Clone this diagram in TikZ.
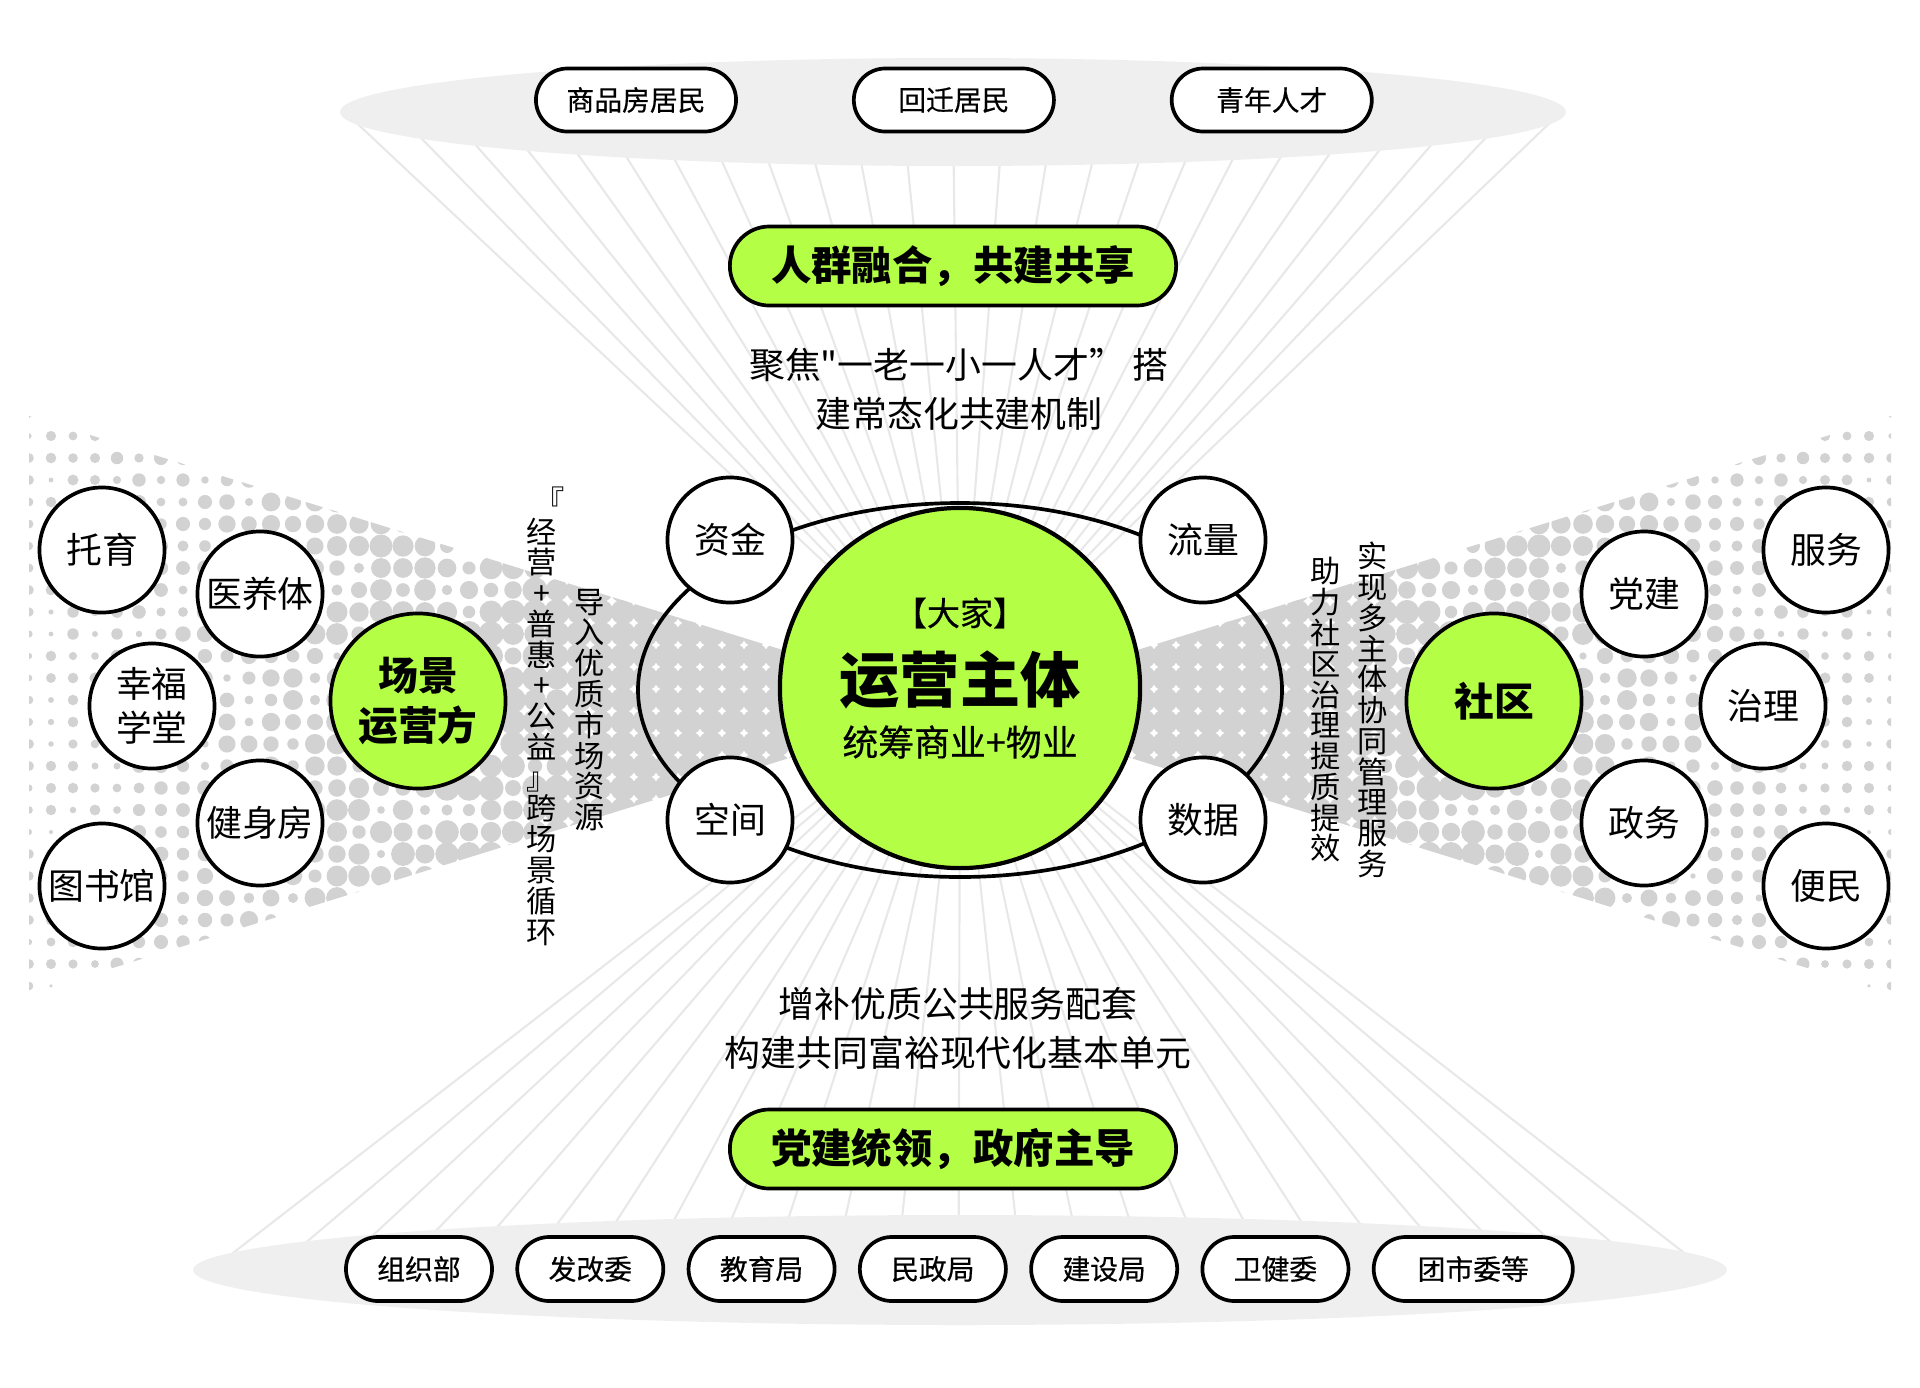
\documentclass[tikz,border=0pt]{standalone}
\usepackage{fontspec}
\setmainfont{Noto Sans CJK SC}[Ligatures=TeXOff]
\newfontfamily\medfont[FakeBold=0.5]{Noto Sans CJK SC}
\usetikzlibrary{positioning,shapes.misc}
\definecolor{lime}{HTML}{B4FF46}
\definecolor{dotgray}{HTML}{D2D2D2}
\definecolor{raygray}{HTML}{E8E8E8}
\definecolor{poolgray}{HTML}{EFEFEF}

\begin{document}
\begin{tikzpicture}[x=0.01cm,y=-0.01cm,line width=1.05pt,node distance=1.14cm]
  \tikzstyle{bub}=[circle,draw,fill=white,minimum size=1.25cm,inner sep=0pt,
                   align=center,font=\fontsize{10.2}{12.5}\selectfont]
  \tikzstyle{hubbub}=[bub,fill=lime,minimum size=1.75cm,
                      font=\bfseries\fontsize{11.3}{14}\selectfont]
  \tikzstyle{pill}=[rounded rectangle,draw,fill=white,minimum width=2cm,
                    minimum height=0.63cm,inner sep=0pt,
                    font=\medfont\fontsize{7.9}{9}\selectfont]
  \tikzstyle{bigpill}=[pill,fill=lime,minimum width=4.46cm,minimum height=0.79cm,
                       font=\bfseries\fontsize{11.5}{13}\selectfont]
  \tikzstyle{vcol}=[align=center,inner sep=0pt,font=\fontsize{8.6}{8.75}\selectfont]
  \tikzstyle{note}=[align=center,inner sep=0pt,font=\fontsize{10.2}{14}\selectfont]

  \useasboundingbox (0,0) rectangle (1920,1387);
  \coordinate (hub) at (960,690);

  % rays from both pools
  \foreach \k in {0,...,24} {
    \draw[raygray,line width=0.6pt] ({345+50.67*\k},112) -- (hub);
    \draw[raygray,line width=0.6pt] ({211+62.3*\k},1270) -- (hub);
  }
  \fill[poolgray] (953,112) ellipse [x radius=613,y radius=54];
  \fill[poolgray] (960,1270) ellipse [x radius=767,y radius=55];

  % halftone fans, left one and its mirror
  \foreach \side in {1,-1} {
    \begin{scope}[shift={(960,0)},xscale=\side,shift={(-960,0)}]
      \pgfmathsetseed{17}
      \clip (29,416) -- (960,705) -- (29,994) -- cycle;
      \foreach \i in {0,...,35}
        \foreach \k in {-1,...,26} {
          \pgfmathsetmacro\px{29+22*\i}
          \pgfmathsetmacro\uu{(960-\px)/930}
          \pgfmathsetmacro\amp{max(0,min(1,(\uu-0.35)*6))}
          \pgfmathsetmacro\rr{min(13,5.5+18*(0.97-\uu))*(1-\amp*0.75*rnd*rnd)}
          \fill[dotgray] (\px,{436+22*\k}) circle [radius=\rr];
        }
    \end{scope}
  }

  \draw (960,690) ellipse [x radius=322,y radius=187];

  % residents
  \node[pill] (spf) at (636,100) {商品房居民};
  \node[pill] (hq) [right=of spf] {回迁居民};
  \node[pill] (qn) [right=of hq] {青年人才};

  \node[bigpill] (rq) at (953,266) {人群融合，共建共享};
  \node[note] (top) at (959,389) {聚焦"一老一小一人才” 搭\\建常态化共建机制};

  % operator core
  \node[bub,fill=lime,minimum size=3.6cm,line width=1.2pt] (core) at (960,688) {};
  \node[font=\medfont\fontsize{9.4}{10}\selectfont] (dj) at (960,613) {【大家】};
  \node[font=\bfseries\fontsize{17.1}{18}\selectfont] (yy) at (960,680) {运营主体};
  \node[font=\medfont\fontsize{10.2}{11}\selectfont] (tc) at (960,742) {统筹商业+物业};

  \node[bub] (zj) at (730,540) {资金};
  \node[bub] (ll) at (1203,540) {流量};
  \node[bub] (kj) at (730,820) {空间};
  \node[bub] (sj) at (1203,820) {数据};

  % scene side
  \node[hubbub] (cj) at (418,701) {场景\\运营方};
  \node[bub] (ty) at (102,550) {托育};
  \node[bub] (yy2) at (260,594) {医养体};
  \node[bub] (xf) at (152,706) {幸福\\学堂};
  \node[bub] (js) at (260,823) {健身房};
  \node[bub] (ts) at (102,886) {图书馆};
  \node[vcol] (xh) at (542,716) {\kern0.5em『\\经\\营\\+\\普\\惠\\+\\公\\益\\』\\跨\\场\\景\\循\\环};
  \node[vcol] (dr) at (590,710) {导\\入\\优\\质\\市\\场\\资\\源};

  % community side
  \node[hubbub] (sq) at (1494,701) {社区};
  \node[bub] (fw) at (1826,550) {服务};
  \node[bub] (dj2) at (1644,594) {党建};
  \node[bub] (zl) at (1763,706) {治理};
  \node[bub] (zw) at (1644,823) {政务};
  \node[bub] (bm) at (1826,886) {便民};
  \node[vcol] (zl2) at (1326,710) {助\\力\\社\\区\\治\\理\\提\\质\\提\\效};
  \node[vcol] (sx) at (1373,710) {实\\现\\多\\主\\体\\协\\同\\管\\理\\服\\务};

  % government
  \node[note] (bot) at (958,1028) {增补优质公共服务配套\\构建共同富裕现代化基本单元};
  \node[bigpill] (dz) at (953,1149) {党建统领，政府主导};

  \tikzstyle{opill}=[pill,minimum width=1.46cm,minimum height=0.64cm]
  \node[opill] (zz) at (419,1269) {组织部};
  \node[opill] (fg) [right=0.215cm of zz] {发改委};
  \node[opill] (jy) [right=0.215cm of fg] {教育局};
  \node[opill] (mz) [right=0.215cm of jy] {民政局};
  \node[opill] (jsj) [right=0.215cm of mz] {建设局};
  \node[opill] (wj) [right=0.215cm of jsj] {卫健委};
  \node[opill,minimum width=1.99cm] (tsw) [right=0.215cm of wj] {团市委等};
\end{tikzpicture}
\end{document}
